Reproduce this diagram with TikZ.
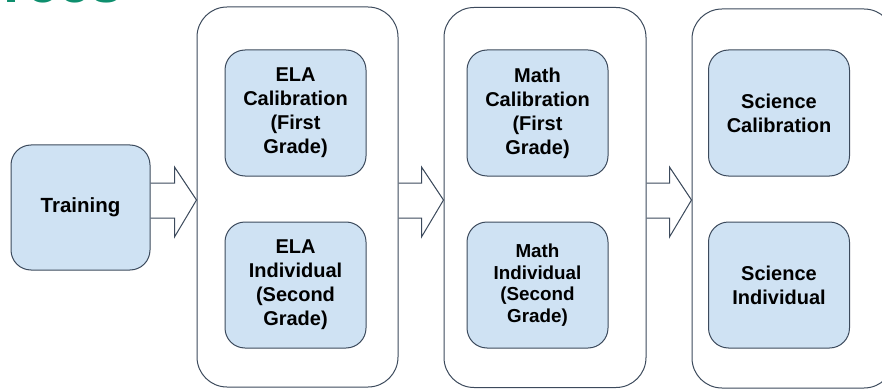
\documentclass[tikz,border=0pt]{standalone}
\usepackage{fontspec}
\setmainfont{Liberation Sans}
\usetikzlibrary{calc}
\definecolor{boxblue}{HTML}{CFE2F3}
\definecolor{edgecol}{HTML}{3C4A5C}
\definecolor{titlegreen}{HTML}{0E8F6E}
\begin{document}
\begin{tikzpicture}[x=1pt,y=-1pt,
  stagebox/.style={draw=edgecol, line width=1pt, fill=boxblue, rounded corners=20pt,
    minimum width=141pt, minimum height=126pt, align=center, inner sep=0pt,
    font=\bfseries\fontsize{20}{24}\selectfont},
  smalltext/.style={font=\bfseries\fontsize{18.8}{21.7}\selectfont},
  groupbox/.style={draw=edgecol, line width=1pt, rounded corners=30pt, inner sep=0pt,
    minimum width=202pt, minimum height=380pt},
  blockarrow/.style={draw=edgecol, line width=1pt, line join=miter}
]
\clip (0,0) rectangle (882,390);
\useasboundingbox (0,0) rectangle (882,390);

% cut-off title
\node[anchor=base east, inner sep=0pt, text=titlegreen,
  font=\bfseries\fontsize{58}{58}\selectfont] (title) at (123,3) {Sources};

% groups
\node[groupbox, minimum width=201pt] (g1) at (297.5,197) {};
\node[groupbox] (g2) at (545,197.5) {};
\node[groupbox, minimum height=379pt] (g3) at (793,198.5) {};

% boxes
\node[stagebox, minimum width=139pt, minimum height=125pt, font=\bfseries\fontsize{20.5}{24}\selectfont] (train) at (80.5,207.5) {Training};
\node[stagebox] (elacal) at (295.5,113) {ELA\\Calibration\\(First\\Grade)};
\node[stagebox] (elaind) at (295.5,285) {ELA\\Individual\\(Second\\Grade)};
\node[stagebox] (mathcal) at (537.5,113) {Math\\Calibration\\(First\\Grade)};
\node[stagebox, smalltext] (mathind) at (537.5,285) {Math\\Individual\\(Second\\Grade)};
\node[stagebox] (scical) at (779,113) {Science\\Calibration};
\node[stagebox] (sciind) at (779,285) {Science\\Individual};

% block arrows
\foreach \a/\b in {train/g1, g1/g2, g2/g3}{
  \draw[blockarrow]
    (\a.east |- 0,183) -- ($(\b.west |- 0,183)+(-22,0)$)
    -- ($(\b.west |- 0,167)+(-22,0)$) -- (\b.west |- 0,200)
    -- ($(\b.west |- 0,237)+(-22,0)$) -- ($(\b.west |- 0,218)+(-22,0)$)
    -- (\a.east |- 0,218);
}
\end{tikzpicture}
\end{document}
